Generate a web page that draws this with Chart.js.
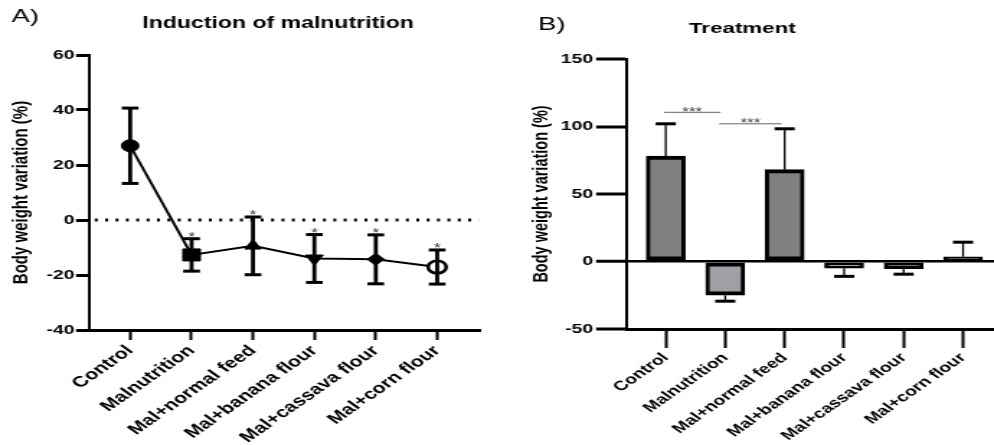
<!DOCTYPE html>
<html lang="en">
<head>
<meta charset="UTF-8">
<title>Body weight variation</title>
<script src="https://cdn.jsdelivr.net/npm/chart.js"></script>
<style>
  body { margin: 0; background: #fff; }
  canvas { position: absolute; top: 0; }
</style>
</head>
<body>
<!-- the figure is horizontally stretched, so each canvas is drawn narrower and scaled up by CSS -->
<canvas id="chartA" width="345" height="445" style="left:0;width:497px;height:445px"></canvas>
<canvas id="chartB" width="345" height="445" style="left:497px;width:497px;height:445px"></canvas>
<script>
const categories = ['Control', 'Malnutrition', 'Mal+normal feed', 'Mal+banana flour', 'Mal+cassava flour', 'Mal+corn flour'];

// A) induction of malnutrition: mean and error
const inductionMean = [27, -12.7, -9.4, -14.0, -14.3, -17.1];
const inductionErr = [13.7, 5.9, 10.5, 8.7, 8.9, 6.2];
const inductionSig = ['', '*', '*', '*', '*', '*'];
const inductionTicks = [-40, -20, 0, 20, 40, 60];

// B) treatment: mean and (one sided) error
const treatmentMean = [78, -25, 68, -5, -5.4, 3.5];
const treatmentErr = [24, 4.4, 30.3, 6, 4, 10.8];
const treatmentTicks = [-50, 0, 50, 100, 150];
const treatmentSigFrom = [-0.03, 0.9];
const treatmentSigTo = [0.92, 1.95];
const treatmentSigAt = [110.5, 102];
const treatmentSigText = ['***', '***'];

const FONT = "'Liberation Sans', Arial, Helvetica, sans-serif";
Chart.defaults.font.family = FONT;
Chart.defaults.color = '#000';

function header(letter, lx, ly, title, tx, ty, size) {
    return {
        id: 'header',
        afterDraw(chart) {
            const ctx = chart.ctx;
            ctx.save();
            ctx.fillStyle = '#000';
            ctx.textBaseline = 'middle';
            ctx.textAlign = 'left';
            ctx.font = '19px ' + FONT;
            ctx.fillText(letter, lx, ly);
            ctx.textAlign = 'center';
            ctx.font = 'bold ' + size + 'px ' + FONT;
            ctx.fillText(title, tx, ty);
            ctx.restore();
        }
    };
}

function errorBars(mean, err, twoSided, lineW, capHalf) {
    return {
        id: 'errorBars',
        afterDatasetsDraw(chart) {
            const { ctx, scales: { x, y } } = chart;
            ctx.save();
            ctx.strokeStyle = '#000';
            mean.forEach((m, i) => {
                const px = x.getPixelForValue(i);
                let a, b;
                if (twoSided) { a = m - err[i]; b = m + err[i]; }
                else { a = m; b = m >= 0 ? m + err[i] : m - err[i]; }
                ctx.lineWidth = lineW;
                ctx.beginPath();
                ctx.moveTo(px, y.getPixelForValue(a));
                ctx.lineTo(px, y.getPixelForValue(b));
                ctx.stroke();
                ctx.lineWidth = 3;
                const ends = twoSided ? [a, b] : [b];
                ends.forEach(v => {
                    ctx.beginPath();
                    ctx.moveTo(px - capHalf, y.getPixelForValue(v));
                    ctx.lineTo(px + capHalf, y.getPixelForValue(v));
                    ctx.stroke();
                });
            });
            ctx.restore();
        }
    };
}

const zeroDots = {
    id: 'zeroDots',
    beforeDatasetsDraw(chart) {
        const { ctx, chartArea, scales: { y } } = chart;
        const py = y.getPixelForValue(0);
        ctx.save();
        ctx.strokeStyle = '#000';
        ctx.lineWidth = 3;
        ctx.setLineDash([2, 5.2]);
        ctx.beginPath();
        ctx.moveTo(chartArea.left + 4, py);
        ctx.lineTo(chartArea.right - 1, py);
        ctx.stroke();
        ctx.restore();
    }
};

const stars = {
    id: 'stars',
    afterDatasetsDraw(chart) {
        const { ctx, scales: { x, y } } = chart;
        ctx.save();
        ctx.fillStyle = '#333';
        ctx.font = '12px ' + FONT;
        ctx.textAlign = 'center';
        ctx.textBaseline = 'alphabetic';
        inductionSig.forEach((s, i) => {
            if (!s) return;
            const top = y.getPixelForValue(inductionMean[i] + inductionErr[i]);
            ctx.fillText(s, x.getPixelForValue(i), top + 2);
        });
        ctx.restore();
    }
};

const sigLines = {
    id: 'sigLines',
    afterDatasetsDraw(chart) {
        const { ctx, scales: { x, y } } = chart;
        ctx.save();
        ctx.strokeStyle = '#666';
        ctx.fillStyle = '#444';
        ctx.lineWidth = 1;
        ctx.font = '12px ' + FONT;
        ctx.textAlign = 'center';
        treatmentSigText.forEach((t, i) => {
            const x1 = x.getPixelForValue(treatmentSigFrom[i]);
            const x2 = x.getPixelForValue(treatmentSigTo[i]);
            const py = y.getPixelForValue(treatmentSigAt[i]);
            ctx.beginPath();
            ctx.moveTo(x1, py);
            ctx.lineTo(x2, py);
            ctx.stroke();
            ctx.fillText(t, (x1 + x2) / 2, py + 3.5);
        });
        ctx.restore();
    }
};

const tickFont = size => ({ family: FONT, size: size, weight: 'bold' });

new Chart(document.getElementById('chartA'), {
    type: 'line',
    data: {
        datasets: [{
            data: inductionMean.map((v, i) => ({ x: i, y: v })),
            borderColor: '#000',
            borderWidth: 2,
            pointStyle: ['circle', 'rect', 'triangle', 'triangle', 'rectRot', 'circle'],
            pointRotation: [0, 0, 0, 180, 0, 0],
            pointRadius: [6, 8.5, 6.5, 7, 6, 6.3],
            pointBackgroundColor: ['#000', '#000', '#000', '#000', '#000', '#fff'],
            pointBorderColor: '#000',
            pointBorderWidth: [1, 1, 1, 1, 1, 2.6]
        }]
    },
    options: {
        responsive: false,
        animation: false,
        devicePixelRatio: 1,
        layout: { padding: { top: 55, right: 11.7, left: 0, bottom: 0 } },
        plugins: { legend: { display: false }, tooltip: { enabled: false } },
        scales: {
            x: {
                type: 'linear',
                min: -0.67,
                max: 5.7,
                afterBuildTicks: s => { s.ticks = categories.map((c, i) => ({ value: i })); },
                afterFit: s => { s.height = 115; },
                border: { color: '#000', width: 3 },
                grid: { drawOnChartArea: false, tickLength: 10, tickColor: '#000', tickWidth: 2 },
                ticks: {
                    autoSkip: false, minRotation: 45, maxRotation: 45, padding: 2,
                    color: '#000', font: tickFont(15),
                    callback: v => categories[v]
                }
            },
            y: {
                min: -40,
                max: 60,
                afterBuildTicks: s => { s.ticks = inductionTicks.map(v => ({ value: v })); },
                afterFit: s => { s.width = 61.8; },
                border: { color: '#000', width: 2 },
                grid: { drawOnChartArea: false, tickLength: 9, tickColor: '#000', tickWidth: 3 },
                ticks: { padding: 1, color: '#000', font: tickFont(13.5) },
                title: {
                    display: true, text: 'Body weight variation (%)', color: '#000',
                    font: tickFont(15), padding: { top: 5.6, bottom: 0 }
                }
            }
        }
    },
    plugins: [zeroDots, errorBars(inductionMean, inductionErr, true, 2.8, 5.8), stars,
        header('A)', 8, 17, 'Induction of malnutrition', 193, 24, 16)]
});

new Chart(document.getElementById('chartB'), {
    type: 'bar',
    data: {
        datasets: [{
            data: treatmentMean.map((v, i) => ({ x: i, y: v })),
            backgroundColor: ['#808080', '#a0a0a4', '#808080', '#d0d0d0', '#5c5c5c', '#3a3a3a'],
            borderColor: '#000',
            borderWidth: { top: 4, bottom: 4, left: 3, right: 3 },
            borderSkipped: false,
            barThickness: 27
        }]
    },
    options: {
        responsive: false,
        animation: false,
        devicePixelRatio: 1,
        layout: { padding: { top: 59, right: 0, left: 0, bottom: 0 } },
        plugins: { legend: { display: false }, tooltip: { enabled: false } },
        scales: {
            x: {
                type: 'linear',
                offset: false,
                min: -0.65,
                max: 5.52,
                afterBuildTicks: s => { s.ticks = categories.map((c, i) => ({ value: i })); },
                afterFit: s => { s.height = 116; },
                border: { color: '#000', width: 3 },
                grid: { offset: false, drawOnChartArea: false, tickLength: 19, tickColor: '#000', tickWidth: 2 },
                ticks: {
                    autoSkip: false, minRotation: 45, maxRotation: 45, padding: 2,
                    color: '#000', font: tickFont(13.5),
                    callback: v => categories[v]
                }
            },
            y: {
                min: -50,
                max: 150,
                afterBuildTicks: s => { s.ticks = treatmentTicks.map(v => ({ value: v })); },
                afterFit: s => { s.width = 90.3; },
                border: { color: '#000', width: 2 },
                grid: {
                    color: c => (c.tick && c.tick.value === 0 ? '#000' : 'rgba(0,0,0,0)'),
                    lineWidth: c => (c.tick && c.tick.value === 0 ? 2.5 : 0),
                    tickLength: 21.5, tickColor: '#000', tickWidth: 3
                },
                ticks: { padding: 2, color: '#000', font: tickFont(13.5) },
                title: {
                    display: true, text: 'Body weight variation (%)', color: '#000',
                    font: tickFont(14.5), padding: { top: 22, bottom: 0 }
                }
            }
        }
    },
    plugins: [errorBars(treatmentMean, treatmentErr, false, 1.3, 7), sigLines,
        header('B)', 28.5, 25, 'Treatment', 170.3, 29, 15.5)]
});
</script>
</body>
</html>
